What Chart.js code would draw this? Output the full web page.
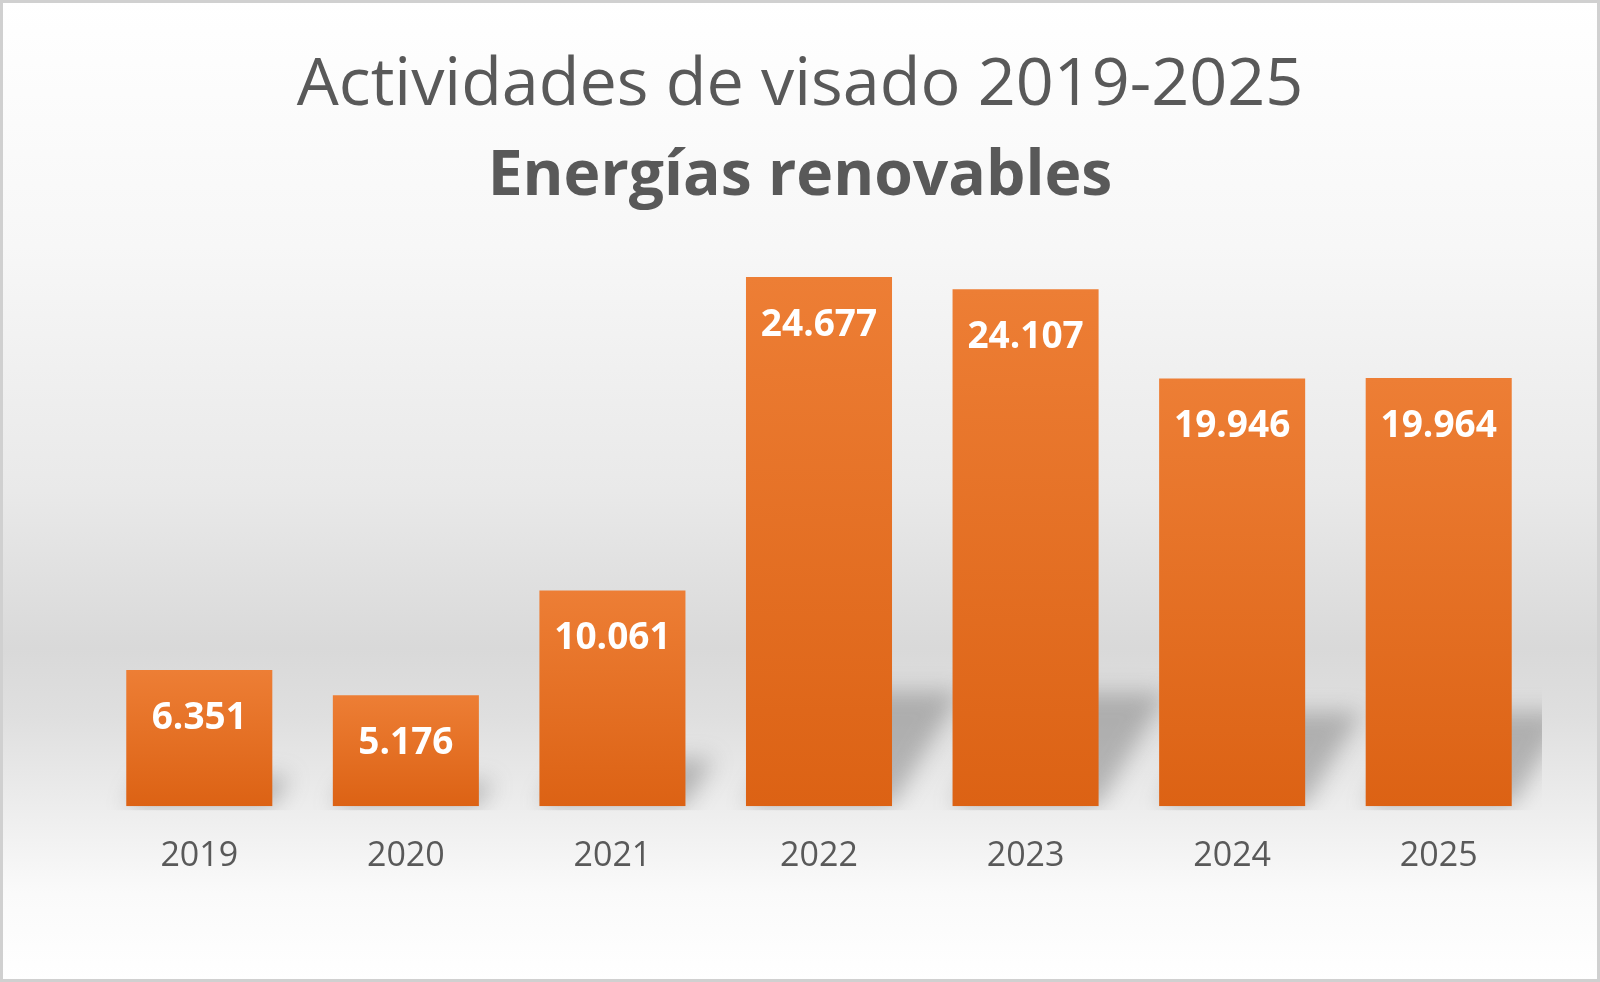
<!DOCTYPE html>
<html>
<head>
<meta charset="utf-8">
<script src="https://cdn.jsdelivr.net/npm/chart.js@4.4.1/dist/chart.umd.min.js"></script>
<style>
    html, body { margin: 0; padding: 0; background: #ffffff; }
    #wrap { width: 1600px; height: 982px; position: relative; }
</style>
</head>
<body>
<div id="wrap"><canvas id="visadoChart" width="1600" height="982"></canvas></div>
<script>
// Data
const years = ['2019', '2020', '2021', '2022', '2023', '2024', '2025'];
const visados = [6351, 5176, 10061, 24677, 24107, 19946, 19964];
const titleText = 'Actividades de visado 2019-2025';
const subtitleText = 'Energías renovables';

const textGrey = '#595959';

// spanish thousands separator (5.176, 24.677)
function fmt(v) {
    return String(v).replace(/\B(?=(\d{3})+(?!\d))/g, '.');
}

// background + outer border
const backgroundPlugin = {
    id: 'bgPanel',
    beforeDraw(chart) {
        const { ctx, width, height } = chart;
        const g = ctx.createLinearGradient(0, 0, 0, height);
        g.addColorStop(0, '#ffffff');
        g.addColorStop(0.25, '#f7f7f7');
        g.addColorStop(0.5, '#e9e9e9');
        g.addColorStop(0.66, '#d9d9d9');
        g.addColorStop(0.73, '#dfdfdf');
        g.addColorStop(0.83, '#eeeeee');
        g.addColorStop(0.91, '#fafafa');
        g.addColorStop(1, '#ffffff');
        ctx.save();
        ctx.fillStyle = g;
        ctx.fillRect(0, 0, width, height);
        ctx.strokeStyle = '#d0d0d0';
        ctx.lineWidth = 3;
        ctx.strokeRect(1.5, 1.5, width - 3, height - 3);
        ctx.restore();
    }
};

// soft perspective shadow behind each bar
const shadowPlugin = {
    id: 'barShadow',
    beforeDatasetsDraw(chart) {
        const { ctx, chartArea } = chart;
        const meta = chart.getDatasetMeta(0);
        ctx.save();
        ctx.beginPath();
        ctx.rect(chartArea.left, chartArea.top, chartArea.right - chartArea.left, chartArea.bottom - chartArea.top + 4);
        ctx.clip();
        ctx.filter = 'blur(11px)';
        ctx.fillStyle = 'rgba(100, 100, 100, 0.4)';
        meta.data.forEach(bar => {
            const h = bar.base - bar.y;
            const sh = Math.min(h * 0.22, 115);
            const dx = sh * 0.6;
            const l = bar.x - bar.width / 2;
            const r = bar.x + bar.width / 2;
            ctx.beginPath();
            ctx.moveTo(l, bar.base);
            ctx.lineTo(r, bar.base);
            ctx.lineTo(r + dx, bar.base - sh);
            ctx.lineTo(l + dx, bar.base - sh);
            ctx.closePath();
            ctx.fill();
        });
        ctx.restore();
    }
};

// value labels inside the top of each bar
const valueLabels = {
    id: 'valueLabels',
    afterDatasetsDraw(chart) {
        const { ctx } = chart;
        const meta = chart.getDatasetMeta(0);
        ctx.save();
        ctx.font = 'bold 37px "Open Sans"';
        ctx.fillStyle = '#ffffff';
        ctx.textAlign = 'center';
        ctx.textBaseline = 'middle';
        meta.data.forEach((bar, i) => {
            ctx.fillText(fmt(visados[i]), bar.x, bar.y + 48);
        });
        ctx.restore();
    }
};

const canvas = document.getElementById('visadoChart');
const ctx = canvas.getContext('2d');

new Chart(ctx, {
    type: 'bar',
    data: {
        labels: years,
        datasets: [{
            label: 'Visados',
            data: visados,
            backgroundColor: (c) => {
                const chart = c.chart;
                const area = chart.chartArea;
                if (!area || c.type !== 'data') return '#E8742A';
                const yScale = chart.scales.y;
                const top = yScale.getPixelForValue(c.parsed.y);
                const bottom = yScale.getPixelForValue(0);
                const g = chart.ctx.createLinearGradient(0, top, 0, bottom);
                g.addColorStop(0, '#ED7E35');
                g.addColorStop(1, '#DC6214');
                return g;
            },
            borderWidth: 0,
            categoryPercentage: 1,
            barPercentage: 0.707
        }]
    },
    options: {
        responsive: false,
        animation: false,
        devicePixelRatio: 1,
        layout: { padding: { left: 58, right: 58, top: 0, bottom: 75 } },
        plugins: {
            legend: { display: false },
            tooltip: { enabled: false },
            title: {
                display: true,
                text: titleText,
                color: textGrey,
                font: { family: '"Open Sans"', size: 66.5, weight: 'normal', lineHeight: 1.2 },
                padding: { top: 46, bottom: 0 }
            },
            subtitle: {
                display: true,
                text: subtitleText,
                color: textGrey,
                font: { family: '"Open Sans"', size: 62.4, weight: 'bold', lineHeight: 1.2 },
                padding: { top: 14, bottom: 34 }
            }
        },
        scales: {
            x: {
                grid: { display: false, drawTicks: false },
                border: { display: false },
                ticks: {
                    color: textGrey,
                    padding: 30,
                    font: { family: '"Open Sans"', size: 34 }
                }
            },
            y: {
                display: true,
                min: 0,
                max: 26000,
                grid: { display: false, drawTicks: false },
                border: { display: false },
                ticks: { display: false },
                // hidden axis, only reserves the left margin
                afterFit(scale) { scale.width = 38; }
            }
        }
    },
    plugins: [backgroundPlugin, shadowPlugin, valueLabels]
});
</script>
</body>
</html>
